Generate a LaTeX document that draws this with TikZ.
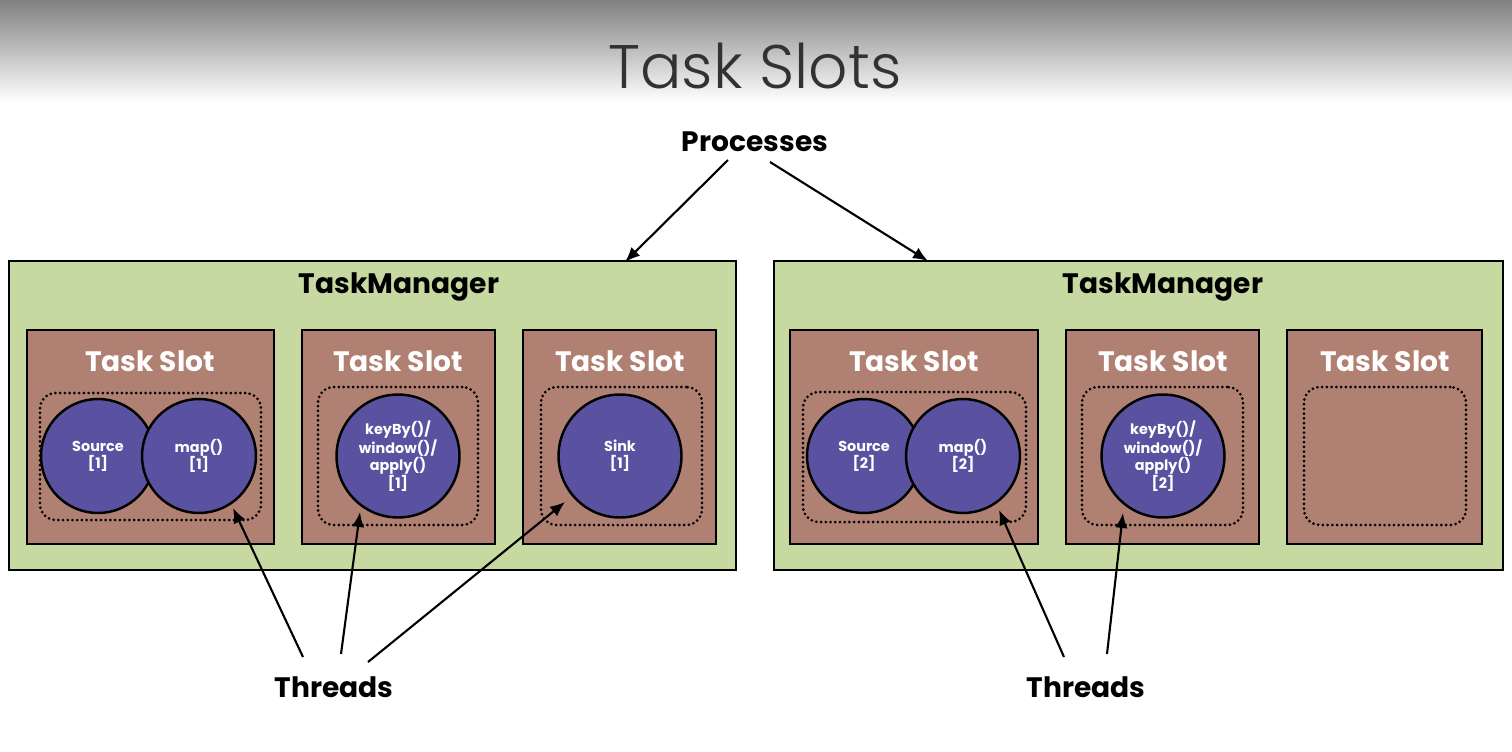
\documentclass[tikz,border=0pt]{standalone}
\usepackage{fontspec}
\setmainfont{Poppins}
\newfontfamily\titlefont{Poppins Light}
\usetikzlibrary{arrows.meta,fit}
\definecolor{tmgreen}{RGB}{198,217,160}
\definecolor{slotbrown}{RGB}{176,128,114}
\definecolor{opblue}{RGB}{90,82,160}
\definecolor{titlegray}{RGB}{50,50,50}
\definecolor{gradtop}{RGB}{128,128,128}
\begin{document}
\begin{tikzpicture}[x=0.02cm,y=-0.02cm,
  tm/.style={draw=black,line width=1.1pt,fill=tmgreen,inner sep=0pt},
  slot/.style={draw=black,line width=1.1pt,fill=slotbrown,inner sep=0pt},
  grp/.style={draw=black,line width=1.7pt,dash pattern=on 0pt off 2.7pt,line cap=round,rounded corners=9pt,inner sep=0pt},
  op/.style={circle,draw=black,line width=1.4pt,fill=opblue,text=white,font=\bfseries\fontsize{8.2}{9.8}\selectfont,align=center,inner sep=0pt},
  lbl/.style={font=\bfseries\fontsize{16}{18}\selectfont},
  slotlbl/.style={font=\bfseries\fontsize{16}{18}\selectfont,text=white},
  arr/.style={line width=1.2pt,-{Latex[length=8.5pt,width=7pt]}}
]
\useasboundingbox (0,0) rectangle (1512,751);
\fill[white] (0,0) rectangle (1512,751);
\shade[top color=gradtop,bottom color=white] (0,0) rectangle (1512,102);
\node[font=\titlefont\fontsize{35}{40}\selectfont,text=titlegray] (title) at (755,66) {Task Slots};

\node[lbl] (proc) at (755,142) {Processes};

% TaskManagers
\node[tm,fit={(9,261)(736,570)}] (tm1) {};
\node[tm,fit={(774,261)(1503,570)}] (tm2) {};
\node[lbl] (tm1lbl) at (399,287) {TaskManager};
\node[lbl] (tm2lbl) at (1163,287) {TaskManager};

% slots
\node[slot,fit={(27,330)(274,544)}] (s11) {};
\node[slot,fit={(302,330)(495,544)}] (s12) {};
\node[slot,fit={(523,330)(716,544)}] (s13) {};
\node[slot,fit={(790,330)(1038,544)}] (s21) {};
\node[slot,fit={(1066,330)(1259,544)}] (s22) {};
\node[slot,fit={(1287,330)(1482,544)}] (s23) {};
\foreach \s/\cx in {s11/150,s12/398,s13/620,s21/914,s22/1163,s23/1385}
  \node[slotlbl] (\s lbl) at (\cx,361) {Task Slot};

% dotted groups
\node[grp,fit={(40,393)(261,520)}] (g11) {};
\node[grp,fit={(318,387)(478,525)}] (g12) {};
\node[grp,fit={(541,387)(702,525)}] (g13) {};
\node[grp,fit={(803,392)(1026,522)}] (g21) {};
\node[grp,fit={(1082,387)(1243,525)}] (g22) {};
\node[grp,fit={(1304,387)(1466,525)}] (g23) {};

% operators
\node[op,minimum size=2.28cm] (src1) at (98,456) {Source\\{[1]}};
\node[op,minimum size=2.28cm] (map1) at (199,456) {map()\\{[1]}};
\node[op,minimum size=2.46cm] (kb1) at (398,456) {keyBy()/\\window()/\\apply()\\{[1]}};
\node[op,minimum size=2.46cm] (sink1) at (620,456) {Sink\\{[1]}};
\node[op,minimum size=2.28cm] (src2) at (864,456) {Source\\{[2]}};
\node[op,minimum size=2.28cm] (map2) at (963,456) {map()\\{[2]}};
\node[op,minimum size=2.46cm] (kb2) at (1163,456) {keyBy()/\\window()/\\apply()\\{[2]}};

% Processes arrows
\coordinate (pa) at (728,160);
\coordinate (pb) at (770,162);
\coordinate (tm1in) at (625,262);
\coordinate (tm2in) at (928,261);
\draw[arr] (pa) -- (tm1in);
\draw[arr] (pb) -- (tm2in);

% Threads
\node[lbl] (thr1) at (334,687) {Threads};
\node[lbl] (thr2) at (1086,687) {Threads};
\coordinate (t1a) at (303,657);
\coordinate (t1b) at (341,654);
\coordinate (t1c) at (368,662);
\coordinate (h1a) at (233,508);
\coordinate (h1b) at (360,512);
\coordinate (h1c) at (565,502);
\draw[arr] (t1a) -- (h1a);
\draw[arr] (t1b) -- (h1b);
\draw[arr] (t1c) -- (h1c);
\coordinate (t2a) at (1064,657);
\coordinate (t2b) at (1107,654);
\coordinate (h2a) at (999,510);
\coordinate (h2b) at (1123,513);
\draw[arr] (t2a) -- (h2a);
\draw[arr] (t2b) -- (h2b);
\end{tikzpicture}
\end{document}
